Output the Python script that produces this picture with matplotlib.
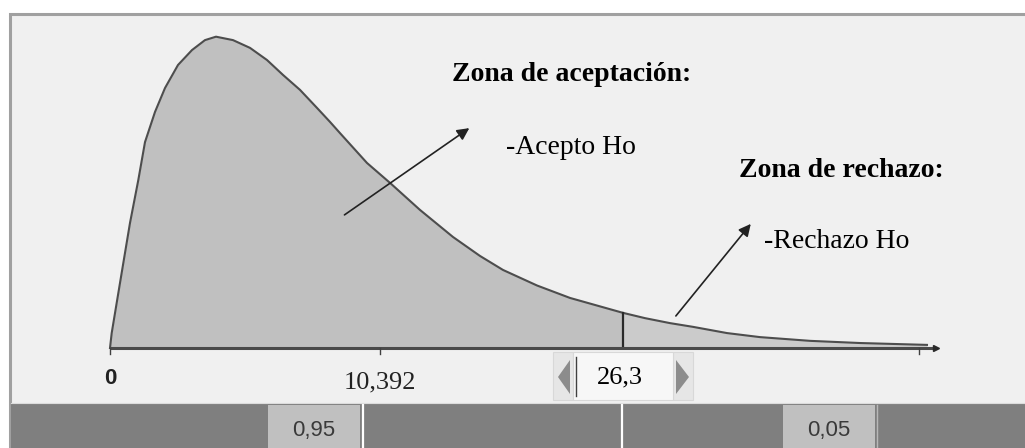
import numpy as np
import matplotlib
matplotlib.use('Agg')
import matplotlib.pyplot as plt
from matplotlib.patches import Rectangle, Polygon
from matplotlib.transforms import Affine2D

W, H = 1025, 448

# chi-square density (x in chi-square units, y density)
curve_x = [0, 0.087, 0.343, 0.682, 1.025, 1.451, 1.794, 2.307, 2.820, 3.486,
           4.204, 4.870, 5.434, 6.306, 7.178, 8.049, 8.870, 9.741, 10.612,
           11.279, 11.791, 13.175, 14.354, 15.892, 17.584, 18.968, 20.147,
           21.891, 23.582, 26.3, 27.427, 28.709, 29.888, 31.631, 33.323,
           35.886, 38.450, 41.884]
curve_y = [0, 0.0048, 0.0145, 0.0273, 0.0402, 0.0540, 0.0662, 0.0759, 0.0836,
           0.0910, 0.0958, 0.0990, 0.1001, 0.0990, 0.0965, 0.0926, 0.0878,
           0.0830, 0.0772, 0.0727, 0.0691, 0.0595, 0.0531, 0.0444, 0.0357,
           0.0296, 0.0251, 0.0201, 0.0161, 0.0113, 0.0096, 0.0080, 0.0068,
           0.0048, 0.0035, 0.0023, 0.0016, 0.0010]
critical = 26.3
tick_pos = [0, 13.84, 41.5]
tick_labels = ['0', '10,392', '']
p_accept = '0,95'
p_reject = '0,05'

curve_x = np.array(curve_x)
curve_y = np.array(curve_y)

fig = plt.figure(figsize=(W / 100, H / 100), dpi=100)
fig.patch.set_facecolor('white')
ax = fig.add_axes([0, 0, 1, 1])
# data scale: 0 at pixel 110, 26.3 at pixel 623; baseline at pixel row 348
sx = (623 - 110) / 26.3
sy = 3110.0
ax.set_xlim(-110 / sx, (W - 110) / sx)
ax.set_ylim(-(H - 348) / sy, 348 / sy)
ax.axis('off')

# pixel transform (origin top-left) for the window chrome
pix = Affine2D().scale(1, -1).translate(0, H)

###################################### window chrome ######################################
ax.add_patch(Rectangle((10, 14), 1040, 500, transform=pix, fc='#f0f0f0', ec='#a0a0a0', lw=2.2, zorder=0))
ax.add_patch(Rectangle((11, 404), 1030, 60, transform=pix, fc='#7f7f7f', ec='none', zorder=1))
ax.plot([11, 1025], [403, 403], transform=pix, color='#dcdcdc', lw=0.8, zorder=1)
ax.add_patch(Rectangle((268, 405), 92, 60, transform=pix, fc='#c0c0c0', ec='none', zorder=2))
ax.add_patch(Rectangle((783, 405), 92, 60, transform=pix, fc='#c0c0c0', ec='none', zorder=2))
ax.plot([363, 363], [405, 448], transform=pix, color='white', lw=1.6, zorder=2)
ax.plot([622, 622], [405, 448], transform=pix, color='white', lw=1.6, zorder=2)
ax.plot([877, 877], [405, 448], transform=pix, color='#b8b8b8', lw=1, zorder=2)
ax.text(314, 430, p_accept, transform=pix, ha='center', va='center', fontsize=16,
        family='Liberation Sans', color='#3a3a3a', zorder=3)
ax.text(829, 430, p_reject, transform=pix, ha='center', va='center', fontsize=16,
        family='Liberation Sans', color='#3a3a3a', zorder=3)

# spinner box
ax.add_patch(Rectangle((553, 352), 20, 48, transform=pix, fc='#e6e6e6', ec='#d8d8d8', lw=0.8, zorder=2))
ax.add_patch(Rectangle((673, 352), 20, 48, transform=pix, fc='#e6e6e6', ec='#d8d8d8', lw=0.8, zorder=2))
ax.add_patch(Rectangle((573, 352), 100, 48, transform=pix, fc='#f7f7f7', ec='#d8d8d8', lw=0.8, zorder=2))
ax.add_patch(Polygon([(570, 360), (570, 394), (558, 377)], transform=pix, fc='#8c8c8c', ec='none', zorder=3))
ax.add_patch(Polygon([(676, 360), (676, 394), (689, 377)], transform=pix, fc='#8c8c8c', ec='none', zorder=3))
ax.plot([576, 576], [357, 396], transform=pix, color='#404040', lw=1, zorder=3)
ax.text(620, 377, '26,3', transform=pix, ha='center', va='center', fontsize=19,
        family='Liberation Serif', color='black', zorder=4)

###################################### distribution ######################################
ax.fill_between(curve_x, 0, curve_y, where=curve_x <= critical, color='#c0c0c0', lw=0, zorder=3)
ax.fill_between(curve_x, 0, curve_y, where=curve_x >= critical, color='#cbcbcb', lw=0, zorder=3)
ax.plot(curve_x, curve_y, color='#4d4d4d', lw=1.5, zorder=4, solid_joinstyle='round')
ax.plot([critical, critical], [0, curve_y[curve_x == critical][0]], color='#2a2a2a', lw=1.6, zorder=5)

# x axis
ax.plot([0, 42.37], [0, 0], color='#4a4a4a', lw=2.2, zorder=5, solid_capstyle='butt')
ax.plot([42.37], [0], marker='>', ms=4, color='#2a2a2a', zorder=5)
tick_len = 6 / sy
for tp in tick_pos:
    ax.plot([tp, tp], [0, -tick_len], color='#404040', lw=1, zorder=5)
ax.text(tick_pos[0], -30 / sy, tick_labels[0], ha='center', va='center', fontsize=16,
        fontweight='bold', family='Liberation Sans', color='#222222', zorder=5)
ax.text(tick_pos[1], -34 / sy, tick_labels[1], ha='center', va='center', fontsize=19,
        family='Liberation Serif', color='#222222', zorder=5)

###################################### annotations ######################################
ax.text(17.55, 0.0878, 'Zona de aceptación:', ha='left', va='center', fontsize=20,
        fontweight='bold', family='Liberation Serif', zorder=6)
ax.text(20.31, 0.0646, '-Acepto Ho', ha='left', va='center', fontsize=20,
        family='Liberation Serif', zorder=6)
ax.text(32.23, 0.0572, 'Zona de rechazo:', ha='left', va='center', fontsize=20,
        fontweight='bold', family='Liberation Serif', zorder=6)
ax.text(33.51, 0.0341, '-Rechazo Ho', ha='left', va='center', fontsize=20,
        family='Liberation Serif', zorder=6)

arrow = dict(arrowstyle='-|>', color='#222222', lw=1.2, mutation_scale=18, shrinkA=0, shrinkB=0)
ax.annotate('', xy=(18.42, 0.0707), xytext=(12.02, 0.0428), arrowprops=arrow, zorder=6)
ax.annotate('', xy=(32.85, 0.0399), xytext=(29.01, 0.0103), arrowprops=arrow, zorder=6)

fig.savefig('out.png', dpi=100)
